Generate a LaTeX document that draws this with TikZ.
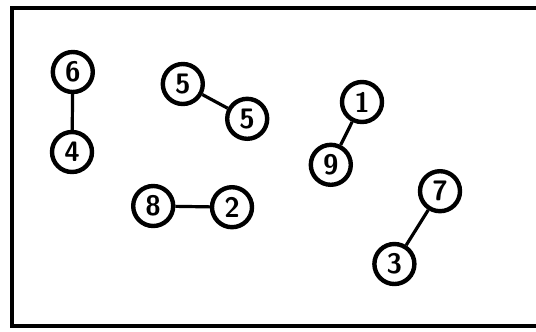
\documentclass[tikz,border=0pt]{standalone}
\usepackage{tikz}
\usetikzlibrary{positioning}

\begin{document}
\begin{tikzpicture}[main/.style = {circle, draw, line width=1.1mm, fill=white, minimum size=10mm, inner sep=0pt, font=\sffamily\bfseries\fontsize{20}{24}\selectfont}, every edge/.append style={line width=0.8mm}]

\useasboundingbox (0,0) rectangle (13.4,-8.275);
\draw[line width=1mm] (13.6,-0.2) -- (0.3,-0.2) -- (0.3,-8.15) -- (13.6,-8.15);

\node[main] (6) at (1.82,-1.8) {6};
\node[main] (4) at (1.8,-3.8) {4};
\node[main] (5a) at (4.57,-2.1) {5};
\node[main] (5b) at (6.18,-2.97) {5};
\node[main] (1) at (9.05,-2.55) {1};
\node[main] (9) at (8.27,-4.12) {9};
\node[main] (8) at (3.83,-5.15) {8};
\node[main] (2) at (5.8,-5.18) {2};
\node[main] (7) at (11.0,-4.78) {7};
\node[main] (3) at (9.86,-6.6) {3};

\path
 (6) edge (4)
 (5a) edge (5b)
 (1) edge (9)
 (8) edge (2)
 (7) edge (3);
\end{tikzpicture}
\end{document}
